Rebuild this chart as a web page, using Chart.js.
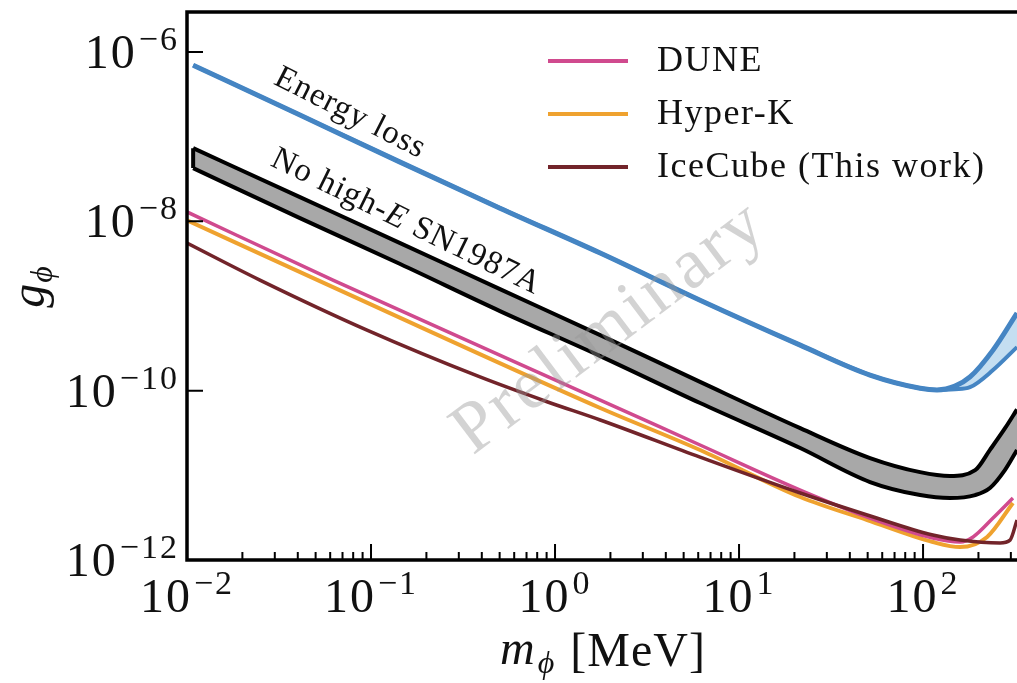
<!DOCTYPE html>
<html>
<head>
<meta charset="utf-8">
<script src="https://cdn.jsdelivr.net/npm/chart.js@4.4.1/dist/chart.umd.min.js"></script>
<style>
  html, body { margin: 0; padding: 0; background: #fff; }
</style>
</head>
<body>
<canvas id="gChart" width="1017" height="683"></canvas>

<script>
  // scalar mass m_phi [MeV] and coupling g_phi
  const lossMass  = [0.0108, 0.0411, 0.144, 0.502, 1.76, 6.14, 21.5, 51.5, 96.4, 119, 149, 180, 240, 324];
  const lossUpper = [6.98e-7, 1.80e-7, 5.0e-8, 1.43e-8, 4.22e-9, 1.17e-9, 3.45e-10, 1.53e-10, 1.07e-10, 1.02e-10, 1.13e-10, 1.45e-10, 3.01e-10, 8.24e-10];
  const lossLower = [6.98e-7, 1.80e-7, 5.0e-8, 1.43e-8, 4.22e-9, 1.17e-9, 3.45e-10, 1.53e-10, 1.07e-10, 1.02e-10, 1.04e-10, 1.10e-10, 1.75e-10, 3.27e-10];

  const snMass  = [0.0108, 0.0411, 0.144, 0.502, 1.76, 6.14, 21.5, 51.5, 96.4, 140, 192, 231, 279, 324];
  const snUpper = [7.31e-8, 1.93e-8, 5.53e-9, 1.58e-9, 4.53e-10, 1.27e-10, 3.61e-11, 1.60e-11, 1.09e-11, 9.82e-12, 1.15e-11, 2.0e-11, 3.6e-11, 6.0e-11];
  const snLower = [4.25e-8, 1.09e-8, 3.13e-9, 8.71e-10, 2.56e-10, 7.14e-11, 2.10e-11, 8.34e-12, 5.85e-12, 5.40e-12, 5.85e-12, 7.08e-12, 1.16e-11, 1.99e-11];

  const duneMass = [0.01, 0.0621, 1.76, 6.14, 21.5, 49.7, 113, 159, 187, 240, 308];
  const duneG    = [1.29e-8, 2.02e-9, 7.74e-11, 2.28e-11, 6.70e-12, 3.22e-12, 1.82e-12, 1.63e-12, 1.87e-12, 3.13e-12, 5.40e-12];

  const hkMass = [0.01, 0.0621, 1.76, 6.14, 21.5, 49.7, 113, 159, 223, 308];
  const hkG    = [1.03e-8, 1.67e-9, 6.24e-11, 1.99e-11, 5.55e-12, 2.96e-12, 1.63e-12, 1.42e-12, 1.87e-12, 4.71e-12];

  const icMass = [0.01, 0.0249, 0.0951, 0.391, 0.905, 1.76, 6.14, 21.5, 49.7, 113, 159, 262, 297, 324];
  const icG    = [5.53e-9, 2.02e-9, 5.18e-10, 1.45e-10, 7.4e-11, 4.50e-11, 1.64e-11, 6.18e-12, 3.40e-12, 1.97e-12, 1.72e-12, 1.59e-12, 1.72e-12, 2.96e-12];

  const xTickExp = [-2, -1, 0, 1, 2];
  const yTickExp = [-12, -10, -8, -6];

  const pts = (xs, ys) => xs.map((v, i) => ({ x: v, y: ys[i] }));

  const SERIF = '"Liberation Serif", "DejaVu Serif", serif';

  function powLabel(ctx, exp, xPos, yMid, align) {
    const sup = exp < 0 ? "\u2212" + Math.abs(exp) : String(exp);
    ctx.letterSpacing = "2px";
    ctx.font = "48px " + SERIF;
    const wb = ctx.measureText("10").width;
    ctx.font = "34px " + SERIF;
    const ws = ctx.measureText(sup).width;
    const total = wb + ws + 2;
    const x0 = align === "right" ? xPos - total : xPos - total / 2;
    ctx.textAlign = "left";
    ctx.textBaseline = "alphabetic";
    ctx.font = "48px " + SERIF;
    ctx.fillText("10", x0, yMid + 16);
    ctx.font = "34px " + SERIF;
    ctx.fillText(sup, x0 + wb + 2, yMid - 2);
    ctx.letterSpacing = "0px";
  }

  function rotText(ctx, text, px, py, deg, font) {
    ctx.save();
    ctx.translate(px, py);
    ctx.rotate((deg * Math.PI) / 180);
    ctx.font = font;
    ctx.letterSpacing = "1px";
    ctx.textAlign = "center";
    ctx.textBaseline = "middle";
    ctx.fillText(text, 0, 0);
    ctx.restore();
  }

  const frame = {
    id: "frame",
    afterDatasetsDraw(chart) {
      const { ctx, scales: { x, y } } = chart;
      // watermark over the curves
      ctx.save();
      ctx.fillStyle = "rgba(150,150,150,0.42)";
      ctx.translate(x.getPixelForValue(2.3), y.getPixelForValue(3.6e-10));
      ctx.rotate((-37 * Math.PI) / 180);
      ctx.font = "72px " + SERIF;
      ctx.letterSpacing = "3px";
      ctx.textAlign = "center";
      ctx.textBaseline = "alphabetic";
      ctx.fillText("Preliminary", 0, 0);
      ctx.restore();
    },
    afterDraw(chart) {
      const { ctx, chartArea: a, scales: { x, y } } = chart;
      ctx.save();
      ctx.strokeStyle = "#000";
      ctx.fillStyle = "#111";
      ctx.lineWidth = 3.5;
      ctx.beginPath();
      ctx.moveTo(a.right + 10, a.top);
      ctx.lineTo(a.left, a.top);
      ctx.lineTo(a.left, a.bottom);
      ctx.lineTo(a.right + 10, a.bottom);
      ctx.stroke();

      // inward ticks
      ctx.lineWidth = 2;
      ctx.beginPath();
      xTickExp.forEach((e) => {
        for (let k = 1; k <= 9; k++) {
          const v = k * Math.pow(10, e);
          if (v > x.max) break;
          const px = x.getPixelForValue(v);
          ctx.moveTo(px, a.bottom);
          ctx.lineTo(px, a.bottom - (k === 1 ? 16 : 8));
        }
      });
      yTickExp.forEach((e) => {
        const py = y.getPixelForValue(Math.pow(10, e));
        ctx.moveTo(a.left, py);
        ctx.lineTo(a.left + 16, py);
      });
      ctx.stroke();

      // tick labels
      xTickExp.forEach((e) => powLabel(ctx, e, x.getPixelForValue(Math.pow(10, e)), 596, "center"));
      yTickExp.forEach((e) => powLabel(ctx, e, a.left - 8, y.getPixelForValue(Math.pow(10, e)), "right"));

      // axis titles
      ctx.textBaseline = "alphabetic";
      ctx.textAlign = "left";
      ctx.letterSpacing = "1px";
      ctx.font = "italic 48px " + SERIF;
      const wm = ctx.measureText("m").width;
      ctx.font = "italic 32px " + SERIF;
      const wp = ctx.measureText("\u03D5").width;
      ctx.font = "48px " + SERIF;
      const wu = ctx.measureText(" [MeV]").width;
      let tx = 603 - (wm + wp + 4 + wu) / 2;
      ctx.font = "italic 48px " + SERIF;
      ctx.fillText("m", tx, 664);
      ctx.font = "italic 32px " + SERIF;
      ctx.fillText("\u03D5", tx + wm + 2, 673);
      ctx.font = "48px " + SERIF;
      ctx.fillText(" [MeV]", tx + wm + wp + 4, 666);
      ctx.letterSpacing = "0px";

      ctx.save();
      ctx.translate(44, 287);
      ctx.rotate(-Math.PI / 2);
      ctx.font = "italic 48px " + SERIF;
      const wg = ctx.measureText("g").width;
      ctx.font = "italic 32px " + SERIF;
      const wq = ctx.measureText("\u03D5").width;
      const gx = -(wg + wq + 1) / 2;
      ctx.font = "italic 48px " + SERIF;
      ctx.fillText("g", gx, 0);
      ctx.font = "italic 32px " + SERIF;
      ctx.fillText("\u03D5", gx + wg + 1, 8);
      ctx.restore();

      // curve annotations
      ctx.fillStyle = "#111";
      rotText(ctx, "Energy loss", x.getPixelForValue(0.077), y.getPixelForValue(1.89e-7), 27, "33px " + SERIF);
      ctx.save();
      ctx.translate(x.getPixelForValue(0.155), y.getPixelForValue(9.8e-9));
      ctx.rotate((26 * Math.PI) / 180);
      ctx.textBaseline = "middle";
      ctx.letterSpacing = "1px";
      const parts = [["No high-", "33px "], ["E", "italic 33px "], [" SN1987A", "33px "]];
      let wsum = 0;
      parts.forEach((p) => { ctx.font = p[1] + SERIF; wsum += ctx.measureText(p[0]).width; });
      let cx = -wsum / 2;
      parts.forEach((p) => {
        ctx.font = p[1] + SERIF;
        ctx.fillText(p[0], cx, 0);
        cx += ctx.measureText(p[0]).width;
      });
      ctx.restore();

      // legend
      const rows = chart.data.datasets.filter((d) => d.inLegend);
      rows.forEach((d, i) => {
        const ly = 61 + i * 53;
        ctx.strokeStyle = d.borderColor;
        ctx.lineWidth = 4;
        ctx.beginPath();
        ctx.moveTo(548, ly);
        ctx.lineTo(628, ly);
        ctx.stroke();
        ctx.fillStyle = "#111";
        ctx.font = "36px " + SERIF;
        ctx.letterSpacing = "1.5px";
        ctx.textAlign = "left";
        ctx.textBaseline = "middle";
        ctx.fillText(d.label, 657, ly + 1);
      });
      ctx.restore();
    },
  };

  const line = (label, data, color, width, order, extra) =>
    Object.assign(
      {
        label: label,
        data: data,
        borderColor: color,
        borderWidth: width,
        pointRadius: 0,
        fill: false,
        cubicInterpolationMode: "monotone",
        order: order,
      },
      extra || {}
    );

  new Chart(document.getElementById("gChart"), {
    type: "line",
    data: {
      datasets: [
        line("loss upper", pts(lossMass, lossUpper), "#4585c3", 5, 6),
        line("loss lower", pts(lossMass, lossLower), "#4585c3", 4, 5, { fill: 0, backgroundColor: "rgba(190,218,240,0.9)" }),
        line("SN upper", pts(snMass, snUpper), "#000", 4, 4),
        line("SN lower", pts(snMass, snLower), "#000", 4, 3, { fill: 2, backgroundColor: "#a8a8a8" }),
        line("SN edge", [{ x: snMass[0], y: snUpper[0] }, { x: snMass[0], y: snLower[0] }], "#000", 4, 3, { cubicInterpolationMode: "default", tension: 0 }),
        line("DUNE", pts(duneMass, duneG), "#d04a8e", 3.5, 1, { inLegend: true }),
        line("Hyper-K", pts(hkMass, hkG), "#efa22f", 4, 2, { inLegend: true }),
        line("IceCube (This work)", pts(icMass, icG), "#72242a", 3.5, 0, { inLegend: true }),
      ],
    },
    options: {
      responsive: false,
      animation: false,
      devicePixelRatio: 1,
      layout: { padding: { left: 187, top: 12, right: 0, bottom: 123 } },
      scales: {
        x: { type: "logarithmic", min: 0.01, max: 324, display: false },
        y: { type: "logarithmic", min: 1e-12, max: 2.965e-6, display: false },
      },
      plugins: {
        legend: { display: false },
        tooltip: { enabled: false },
        filler: { drawTime: "beforeDatasetsDraw" },
      },
    },
    plugins: [frame],
  });
</script>
</body>
</html>
